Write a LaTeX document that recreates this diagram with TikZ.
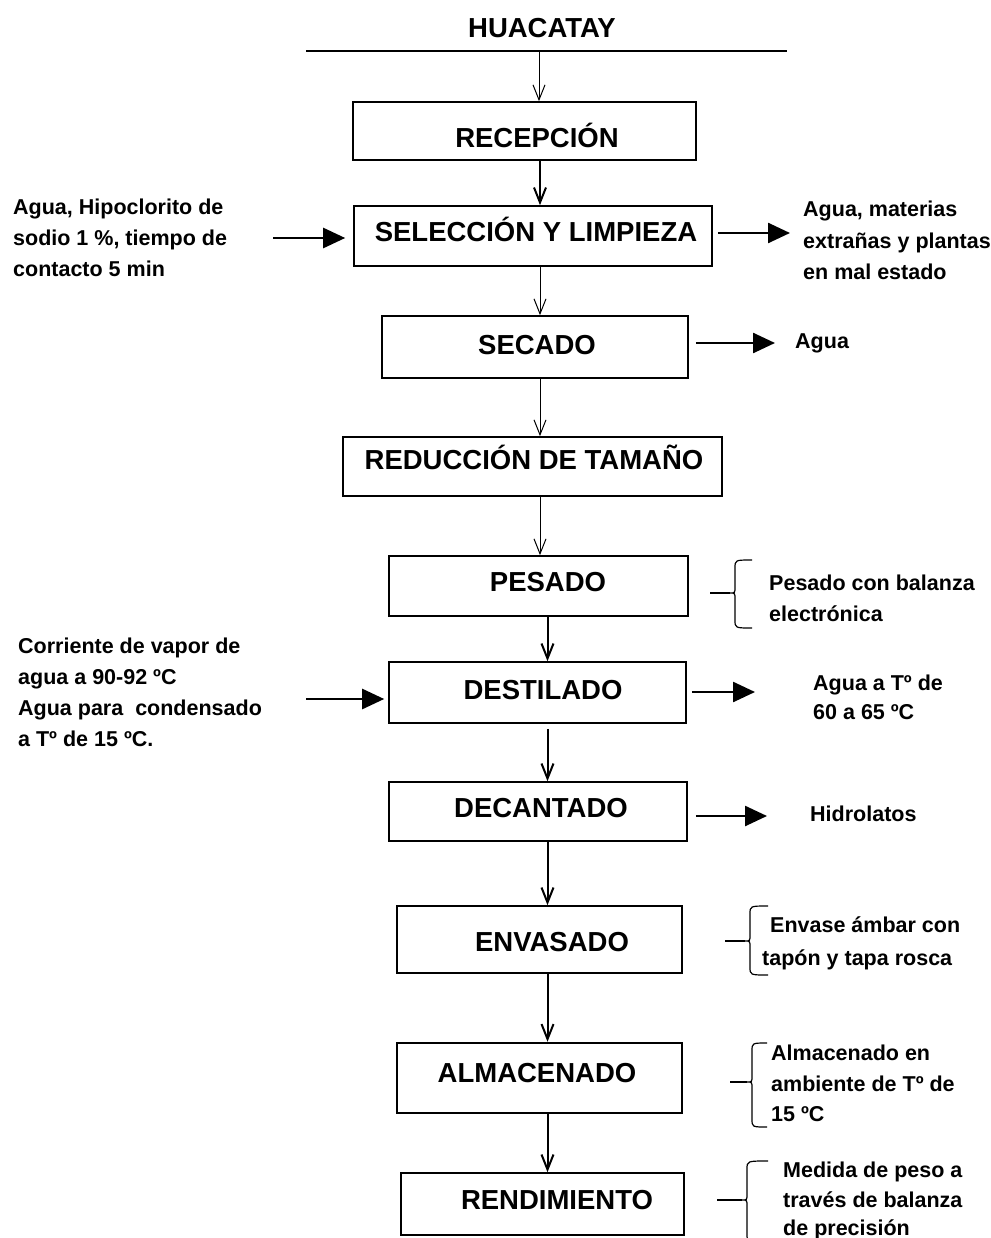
\documentclass[tikz,border=0pt]{standalone}
\usepackage{fontspec}
\setmainfont{Liberation Sans}
\usetikzlibrary{arrows.meta}
\newcommand\sidebrace[6]{%
  \draw[brc] (#1,#5) -- (#2-5,#5);
  \draw[brc] (#3,#4) .. controls (#2,#4) .. (#2,#4+8) -- (#2,#5-6)
     .. controls (#2,#5) .. (#2-5,#5) .. controls (#2,#5) .. (#2,#5+6)
     -- (#2,#6-8) .. controls (#2,#6) .. (#3,#6);}
\begin{document}
\begin{tikzpicture}[x=1pt,y=-1pt,
  box/.style={draw, line width=1.6pt, inner sep=0pt},
  ttl/.style={font=\bfseries\fontsize{27.5}{30}\selectfont, inner sep=0pt, text height=19.7pt, text depth=0pt},
  side/.style={font=\bfseries\fontsize{21.5}{31}\selectfont, inner sep=0pt, anchor=north west, align=left},
  varr/.style={-{Straight Barb[length=15pt,width=12pt]}, line width=1pt},
  varrb/.style={varr, line width=2pt},
  harr/.style={-{Triangle[length=22pt,width=20pt]}, line width=2.5pt},
  brc/.style={line width=1.2pt}]
\useasboundingbox (0,0) rectangle (990,1238);

% header
\node[ttl] (huac) at (542,28) {HUACATAY};
\coordinate (hl) at (306,51);
\coordinate (hr) at (787,51);
\coordinate (top) at (539,51);
\draw[line width=2pt] (hl) -- (hr);

% boxes
\node[box, minimum width=343pt, minimum height=58pt] (recep) at (524.5,131) {};
\node[box, minimum width=358pt, minimum height=60pt] (selec) at (533,236) {};
\node[box, minimum width=306pt, minimum height=62pt] (secado) at (535,347) {};
\node[box, minimum width=379pt, minimum height=59pt] (reduc) at (532.5,466.5) {};
\node[box, minimum width=299pt, minimum height=60pt] (pesado) at (538.5,586) {};
\node[box, minimum width=297pt, minimum height=61pt] (destil) at (537.5,692.5) {};
\node[box, minimum width=298pt, minimum height=59pt] (decant) at (538,811.5) {};
\node[box, minimum width=285pt, minimum height=67pt] (envas) at (539.5,939.5) {};
\node[box, line width=2.5pt, minimum width=285pt, minimum height=70pt] (almac) at (539.5,1078) {};
\node[box, minimum width=283pt, minimum height=62pt] (rendim) at (542.5,1204) {};

% titles
\node[ttl] (t1) at (537,138) {RECEPCIÓN};
\node[ttl] (t2) at (536,232) {SELECCIÓN Y LIMPIEZA};
\node[ttl] (t3) at (537,345) {SECADO};
\node[ttl] (t4) at (534,460) {REDUCCIÓN DE TAMAÑO};
\node[ttl] (t5) at (548,582) {PESADO};
\node[ttl] (t6) at (543,690) {DESTILADO};
\node[ttl] (t7) at (541,808) {DECANTADO};
\node[ttl] (t8) at (552,942) {ENVASADO};
\node[ttl] (t9) at (537,1073) {ALMACENADO};
\node[ttl] (t10) at (557,1200) {RENDIMIENTO};

% vertical arrows
\coordinate (a1) at (540,0);
\coordinate (a2) at (547.5,0);
\draw[varr] (top) -- (recep.north -| top);
\draw[varrb] (recep.south -| a1) -- (selec.north -| a1);
\draw[varr] (selec.south -| a1) -- (secado.north -| a1);
\draw[varr] (secado.south -| a1) -- (reduc.north -| a1);
\draw[varr] (reduc.south -| a1) -- (pesado.north -| a1);
\draw[varrb] (pesado.south -| a2) -- (destil.north -| a2);
\draw[varrb, shorten <=5pt] (destil.south -| a2) -- (decant.north -| a2);
\draw[varrb] (decant.south -| a2) -- (envas.north -| a2);
\draw[varrb] (envas.south -| a2) -- (almac.north -| a2);
\draw[varrb] (almac.south -| a2) -- (rendim.north -| a2);

% side texts
\node[side] (lt1) at (13,197.7) {\rule{0pt}{17pt}Agua, Hipoclorito de\\sodio 1 \%, tiempo de\\contacto 5 min};
\node[side] (rt1) at (803,199.7) {\rule{0pt}{17pt}Agua, materias\\[0.5pt]extrañas y plantas\\[0.5pt]en mal estado};
\node[side] (rt2) at (795,331.7) {\rule{0pt}{17pt}Agua};
\node[side] (rt3) at (769,573.7) {\rule{0pt}{17pt}Pesado con balanza\\electrónica};
\node[side] (lt2) at (18,636.7) {\rule{0pt}{17pt}Corriente de vapor de\\agua a 90-92 ºC\\Agua para~ condensado\\a Tº de 15 ºC.};
\node[side] (rt4) at (813,673.7) {\rule{0pt}{17pt}Agua a Tº de\\[-2pt]60 a 65 ºC};
\node[side] (rt5) at (810,804.7) {\rule{0pt}{17pt}Hidrolatos};
\node[side] (rt6) at (762,915.7) {\rule{0pt}{17pt}\hspace*{8pt}Envase ámbar con\\[2pt]tapón y tapa rosca};
\node[side] (rt7) at (771,1043.7) {\rule{0pt}{17pt}Almacenado en\\ambiente de Tº de\\[-1pt]15 ºC};
\node[side] (rt8) at (783,1160.7) {\rule{0pt}{17pt}Medida de peso a\\[-1pt]través de balanza\\[-3pt]de precisión};

% horizontal arrows
\coordinate (in1) at (273,238);
\coordinate (out1) at (790,233);
\coordinate (out2) at (775,343);
\coordinate (in2) at (306,699);
\coordinate (out3) at (755,692);
\coordinate (out4) at (767,816);
\draw[harr, shorten >=8pt] (in1) -- (in1 -| selec.west);
\draw[harr, shorten <=5pt] (selec.east |- out1) -- (out1);
\draw[harr, shorten <=7pt] (secado.east |- out2) -- (out2);
\draw[harr, shorten >=4pt] (in2) -- (in2 -| destil.west);
\draw[harr, shorten <=5pt] (destil.east |- out3) -- (out3);
\draw[harr, shorten <=8pt] (decant.east |- out4) -- (out4);

% braces
\sidebrace{710}{735}{752}{560}{593}{628}
\sidebrace{725}{750}{768}{906}{941}{975}
\sidebrace{730}{752}{767}{1043}{1082}{1127}
\sidebrace{717}{747}{768}{1161}{1200}{1242}
\end{tikzpicture}
\end{document}
